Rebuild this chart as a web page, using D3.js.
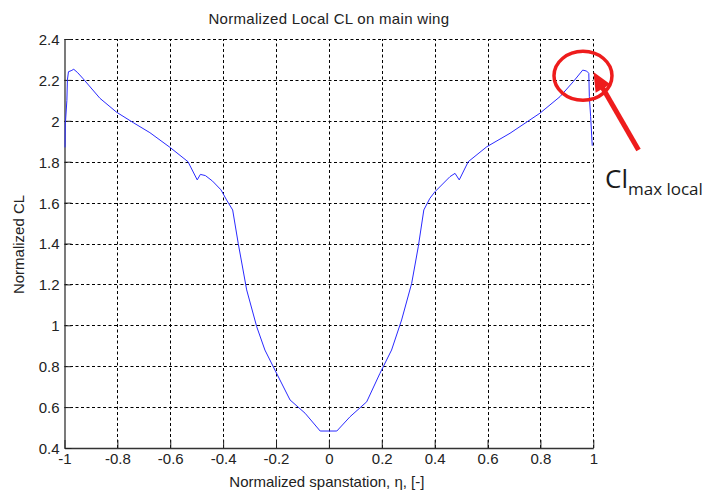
<!DOCTYPE html>
<html>
<head>
<meta charset="utf-8">
<script src="https://cdn.jsdelivr.net/npm/d3@7"></script>
<style>
  body { margin: 0; background: #fff; }
  svg { display: block; }
</style>
</head>
<body>
<svg id="chart" width="710" height="491"></svg>
<script>
// spanwise stations and normalized local CL
const eta = [-0.998, -0.997, -0.996, -0.991, -0.989, -0.985, -0.975, -0.965, -0.95, -0.929,
  -0.866, -0.803, -0.740, -0.677, -0.601, -0.533, -0.498, -0.486, -0.467, -0.44,
  -0.408, -0.387, -0.364, -0.343, -0.311, -0.273, -0.242, -0.204, -0.147, -0.090,
  -0.033, 0.030, 0.080, 0.143, 0.193, 0.237, 0.275, 0.313, 0.338, 0.359,
  0.382, 0.401, 0.458, 0.477, 0.493, 0.527, 0.597, 0.685, 0.798, 0.874,
  0.924, 0.960, 0.975, 0.983, 0.985, 0.990, 0.996];
const clNorm = [1.87, 1.99, 2.00, 2.10, 2.20, 2.24, 2.245, 2.252, 2.235, 2.205,
  2.110, 2.042, 1.991, 1.942, 1.870, 1.800, 1.711, 1.738, 1.732, 1.705,
  1.662, 1.613, 1.564, 1.401, 1.173, 0.993, 0.879, 0.781, 0.635, 0.570,
  0.483, 0.483, 0.553, 0.626, 0.765, 0.879, 1.026, 1.205, 1.384, 1.564,
  1.621, 1.653, 1.727, 1.743, 1.711, 1.800, 1.873, 1.939, 2.037, 2.118,
  2.191, 2.248, 2.243, 2.232, 2.118, 2.020, 1.878];

const xTicks = [-1, -0.8, -0.6, -0.4, -0.2, 0, 0.2, 0.4, 0.6, 0.8, 1];
const yTicks = [0.4, 0.6, 0.8, 1, 1.2, 1.4, 1.6, 1.8, 2, 2.2, 2.4];

const titleText = "Normalized Local CL on main wing";
const xLabel = "Normalized spanstation, \u03B7, [-]";
const yLabel = "Normalized CL";

const svg = d3.select("#chart");
const font = "Arial, 'Liberation Sans', sans-serif";

var margin = {top: 39, right: 117, bottom: 43, left: 64.5};
const width = 710, height = 491;

const x = d3.scaleLinear().domain([-1, 1]).range([margin.left, width - margin.right + 0.3]);
const y = d3.scaleLinear().domain([0.4, 2.4]).range([height - margin.bottom, margin.top]);

// grid
const grid = svg.append("g")
  .attr("stroke", "#000")
  .attr("stroke-width", 1)
  .attr("stroke-dasharray", "3,2.5");

grid.selectAll("line.vx")
  .data(xTicks.slice(1))
  .enter().append("line")
  .attr("x1", d => Math.round(x(d)) + 0.5)
  .attr("x2", d => Math.round(x(d)) + 0.5)
  .attr("y1", y(0.4))
  .attr("y2", y(2.4));

grid.selectAll("line.hy")
  .data(yTicks.slice(1))
  .enter().append("line")
  .attr("x1", x(-1))
  .attr("x2", x(1))
  .attr("y1", d => Math.round(y(d)) + 0.5)
  .attr("y2", d => Math.round(y(d)) + 0.5);

// axes (ticks pointing inward, like matlab), plain hyphen for minus
const fmt = d => String(d);
const xAxis = svg.append("g")
  .attr("transform", "translate(0," + y(0.4) + ")")
  .call(d3.axisBottom(x).tickValues(xTicks).tickSizeInner(-8).tickSizeOuter(0)
    .tickPadding(13).tickFormat(fmt));
const yAxis = svg.append("g")
  .attr("transform", "translate(" + x(-1) + ",0)")
  .call(d3.axisLeft(y).tickValues(yTicks).tickSizeInner(-7).tickSizeOuter(0)
    .tickPadding(5).tickFormat(fmt));

[xAxis, yAxis].forEach(a => {
  a.select(".domain").attr("stroke", "#333").attr("stroke-width", 1.3);
  a.selectAll(".tick line").attr("stroke", "#222");
  a.selectAll(".tick text")
    .attr("font-family", font)
    .attr("font-size", 15)
    .attr("fill", "#222");
});
xAxis.selectAll(".tick text").attr("dy", "0.2em");
yAxis.selectAll(".tick text").attr("dy", "0.36em");

// curve
svg.append("path")
  .datum(d3.zip(eta, clNorm))
  .attr("fill", "none")
  .attr("stroke", "#2a2aff")
  .attr("stroke-width", 1)
  .attr("d", d3.line()
    .x(d => x(d[0]))
    .y(d => y(d[1])));

// labels
svg.append("text")
  .attr("x", (x(-1) + x(1)) / 2)
  .attr("y", 24)
  .attr("text-anchor", "middle")
  .attr("font-family", font)
  .attr("font-size", 15)
  .attr("letter-spacing", 0.3)
  .attr("fill", "#222")
  .text(titleText);

svg.append("text")
  .attr("x", (x(-1) + x(1)) / 2 - 2)
  .attr("y", 487)
  .attr("text-anchor", "middle")
  .attr("font-family", font)
  .attr("font-size", 15)
  .attr("fill", "#222")
  .text(xLabel);

svg.append("text")
  .attr("transform", "translate(24," + (y(1.4) + 1) + ") rotate(-90)")
  .attr("text-anchor", "middle")
  .attr("font-family", font)
  .attr("font-size", 15)
  .attr("fill", "#222")
  .text(yLabel);

// annotation: circle around the local max + arrow + label
const red = "#ee1c1c";
svg.append("ellipse")
  .attr("cx", x(0.961))
  .attr("cy", y(2.22))
  .attr("rx", 29)
  .attr("ry", 24.5)
  .attr("fill", "none")
  .attr("stroke", red)
  .attr("stroke-width", 3.5);

const tip = [593.5, 72], tail = [638.5, 150];
const len = Math.hypot(tail[0] - tip[0], tail[1] - tip[1]);
const u = [(tip[0] - tail[0]) / len, (tip[1] - tail[1]) / len];
const nrm = [-u[1], u[0]];
const headL = 19, headW = 8.5;
const base = [tip[0] - headL * u[0], tip[1] - headL * u[1]];

svg.append("line")
  .attr("x1", tail[0]).attr("y1", tail[1])
  .attr("x2", base[0] + 2 * u[0]).attr("y2", base[1] + 2 * u[1])
  .attr("stroke", red)
  .attr("stroke-width", 5);
svg.append("polygon")
  .attr("points", [tip,
    [base[0] + headW * nrm[0], base[1] + headW * nrm[1]],
    [base[0] - headW * nrm[0], base[1] - headW * nrm[1]]].map(p => p.join(",")).join(" "))
  .attr("fill", red);

const ann = svg.append("text")
  .attr("x", 605)
  .attr("y", 188)
  .attr("font-family", "'Open Sans', 'Noto Sans', sans-serif")
  .attr("fill", "#1a1a1a");
ann.append("tspan").attr("font-size", 26).text("Cl");
ann.append("tspan").attr("font-size", 17).attr("dy", 7).text("max local");
</script>
</body>
</html>
